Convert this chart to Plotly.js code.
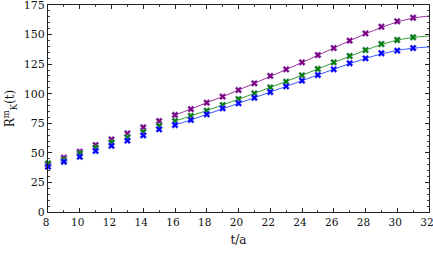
<!DOCTYPE html>
<html><head><meta charset="utf-8">
<script src="https://cdn.plot.ly/plotly-3.0.1.min.js"></script>
<style>html,body{margin:0;padding:0;background:#fff}</style>
</head><body><div id="plot" style="width:433px;height:261px"></div>
<script>
var t = [8,9,10,11,12,13,14,15,16,17,18,19,20,21,22,23,24,25,26,27,28,29,30,31];
var purple = [40,45.9,51,56.6,61.4,66.5,71.6,76.9,82,87,92.4,97.5,103.1,108.8,115,120.6,126.5,132.7,138.6,144.8,151,156.6,161.2,164.2];
var green  = [41,44.2,49.6,54.4,58.9,63.1,67.6,72.7,76.9,81.2,85.6,90.4,95.5,100.3,105.4,110.2,115.5,120.9,126.5,131.9,136.9,142,145.4,147.7];
var blue   = [38.3,42.5,46.7,51.6,56,60.3,64.8,69.9,73.5,77.8,82.6,87.6,91.9,96.6,101.4,106.2,111,115.8,120.6,125.7,129.9,134.2,136.4,138.6];
var tFit = [16,17,18,19,20,21,22,23,24,25,26,27,28,29,30,31,32];
var purpleFit = [82,87,92.4,97.5,103.1,108.8,114.6,120.4,126.4,132.5,138.6,144.8,150.6,156,160.6,163.9,165.7];
var greenFit  = [76.9,81.2,85.8,90.5,95.4,100.3,105.3,110.4,115.6,120.9,126.3,131.6,136.8,141.5,145.3,147.6,148.8];
var blueFit   = [73.5,77.9,82.5,87.2,91.9,96.6,101.4,106.2,111,115.9,120.7,125.4,129.8,133.6,136.6,138.5,139.5];

var series = [
  {y: purple, fit: purpleFit, c: 'rgb(128,0,128)', lc: 'rgb(160,50,160)'},
  {y: green, fit: greenFit, c: 'rgb(0,128,0)', lc: 'rgb(50,160,50)'},
  {y: blue, fit: blueFit, c: 'rgb(0,0,255)', lc: 'rgb(60,90,255)'}
];
var traces = [];
series.forEach(function(s){
  traces.push({x: tFit, y: s.fit, mode: 'lines', line: {color: s.lc, width: 1, shape: 'spline'}, hoverinfo: 'skip', showlegend: false});
});
series.forEach(function(s){
  traces.push({x: t, y: s.y, mode: 'markers', marker: {symbol: 'x', size: 6, color: s.c, line: {width: 0.6, color: 'rgba(150,150,220,0.8)'}}, showlegend: false, cliponaxis: false});
});
var fam = '"DejaVu Serif", serif';
var font = {family: fam, size: 11, color: '#111'};
var xfont = {family: fam, size: 10.5, color: '#111'};
var tfont = {family: fam, size: 12, color: '#111'};
var layout = {
  width: 433, height: 261,
  margin: {l: 48, r: 4, t: 5, b: 49},
  paper_bgcolor: '#fff', plot_bgcolor: '#fff',
  font: font,
  showlegend: false,
  xaxis: {
    range: [8, 32], tickvals: [8,10,12,14,16,18,20,22,24,26,28,30,32],
    ticks: 'inside', ticklen: 4, tickwidth: 1, tickcolor: '#222',
    minor: {dtick: 1, tick0: 8, ticks: 'inside', ticklen: 2, tickcolor: '#444'},
    showline: true, linecolor: '#222', linewidth: 1, mirror: 'ticks',
    showgrid: false, zeroline: false, tickfont: xfont, ticklabeloverflow: 'allow', ticklabelshift: -2,
    title: {text: 't/a', font: tfont, standoff: 9}
  },
  yaxis: {
    range: [0, 175], tickvals: [0,25,50,75,100,125,150,175],
    ticks: 'inside', ticklen: 4, tickwidth: 1, tickcolor: '#222',
    minor: {dtick: 5, tick0: 0, ticks: 'inside', ticklen: 2, tickcolor: '#444'},
    showline: true, linecolor: '#222', linewidth: 1, mirror: 'ticks',
    showgrid: false, zeroline: false, tickfont: font, ticklabeloverflow: 'allow',
    title: {text: 'R<sup>m</sup><sub>K</sub>(t)', font: tfont, standoff: 6}
  }
};
Plotly.newPlot('plot', traces, layout, {staticPlot: true, displayModeBar: false});
</script></body></html>
